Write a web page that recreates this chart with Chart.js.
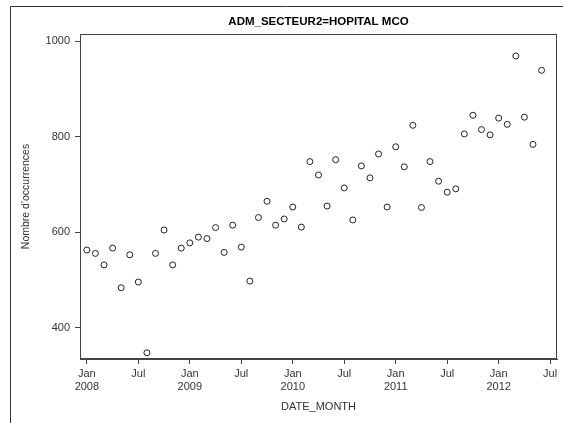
<!DOCTYPE html>
<html>
<head>
<meta charset="utf-8">
<script src="https://cdn.jsdelivr.net/npm/chart.js@4.4.0/dist/chart.umd.min.js"></script>
<style>
html,body{margin:0;padding:0;background:#fff;}
#wrap{width:563px;height:423px;position:relative;}
</style>
</head>
<body>
<div id="wrap"><canvas id="c" width="563" height="423"></canvas></div>
<script>
// month index 0 = Jan 2008
const monthIndex = [0,1,2,3,4,5,6,7,8,9,10,11,12,13,14,15,16,17,18,19,20,21,22,23,24,25,26,27,28,29,30,31,32,33,34,35,36,37,38,39,40,41,42,43,44,45,46,47,48,49,50,51,52,53];
const occurrences = [563,556,532,567,484,553,496,348,556,605,532,567,
                     578,590,587,610,558,615,569,498,631,665,615,628,
                     653,611,748,720,655,752,693,626,739,714,764,653,
                     779,737,824,652,748,707,684,691,806,845,815,804,
                     839,826,969,841,784,939];
const xTickValues = [0,6,12,18,24,30,36,42,48,54];
const yTickValues = [400,600,800,1000];
const startYear = 2008;

const points = monthIndex.map((m,i)=>({x:m, y:occurrences[i]}));

const framePlugin = {
  id:'frame',
  beforeDraw(chart){
    const ctx = chart.ctx;
    ctx.save();
    ctx.fillStyle='#fff';
    ctx.fillRect(0,0,chart.width,chart.height);
    ctx.strokeStyle='#333';
    ctx.lineWidth=1;
    ctx.beginPath();
    ctx.moveTo(10.5,chart.height);
    ctx.lineTo(10.5,6.5);
    ctx.lineTo(chart.width,6.5);
    ctx.stroke();
    ctx.restore();
  },
  afterDraw(chart){
    const a = chart.chartArea, ctx = chart.ctx;
    ctx.save();
    ctx.strokeStyle='#444';
    ctx.lineWidth=1;
    ctx.strokeRect(Math.round(a.left)+0.5, Math.round(a.top)+0.5, Math.round(a.right-a.left)-1, Math.round(a.bottom-a.top)-1);
    ctx.restore();
  }
};

const tickFont = {family:'"Liberation Sans", Arial, sans-serif', size:11};

new Chart(document.getElementById('c'), {
  type:'scatter',
  data:{datasets:[{
    data:points,
    pointStyle:'circle',
    pointRadius:3,
    pointBorderWidth:1,
    borderColor:'#222',
    backgroundColor:'#fff',
    pointHoverRadius:3
  }]},
  options:{
    responsive:false,
    animation:false,
    events:[],
    layout:{padding:{left:16,right:6,top:0,bottom:5}},
    plugins:{
      legend:{display:false},
      tooltip:{enabled:false},
      title:{display:true,fullSize:false,text:'ADM_SECTEUR2=HOPITAL MCO',color:'#000',
        font:{family:'"Liberation Sans", Arial, sans-serif',size:11.5,weight:'bold'},
        padding:{top:15,bottom:5.2}}
    },
    scales:{
      x:{
        type:'linear',
        min:-0.8, max:54.8,
        afterBuildTicks(s){ s.ticks = xTickValues.map(v=>({value:v})); },
        afterFit(s){ s.height = 59; },
        ticks:{
          autoSkip:false, maxRotation:0, padding:3, color:'#333', font:tickFont,
          callback(v){ return (v%12===0) ? ['Jan', String(startYear+v/12)] : 'Jul'; }
        },
        grid:{display:true,drawOnChartArea:false,drawTicks:true,tickLength:5,color:'#444'},
        border:{display:true,color:'#444'},
        title:{display:true,text:'DATE_MONTH',color:'#333',font:tickFont,padding:{top:4,bottom:4}}
      },
      y:{
        type:'linear',
        min:335, max:1015,
        afterBuildTicks(s){ s.ticks = yTickValues.map(v=>({value:v})); },
        afterFit(s){ s.width = 64; },
        ticks:{padding:5,color:'#333',font:tickFont,callback(v){ return String(v); }},
        grid:{display:true,drawOnChartArea:false,drawTicks:true,tickLength:5,color:'#444'},
        border:{display:true,color:'#444'},
        title:{display:true,text:"Nombre d'occurrences",color:'#333',font:{family:'"Liberation Sans", Arial, sans-serif', size:10.5},padding:{top:4,bottom:4}}
      }
    }
  },
  plugins:[framePlugin]
});
</script>
</body>
</html>
